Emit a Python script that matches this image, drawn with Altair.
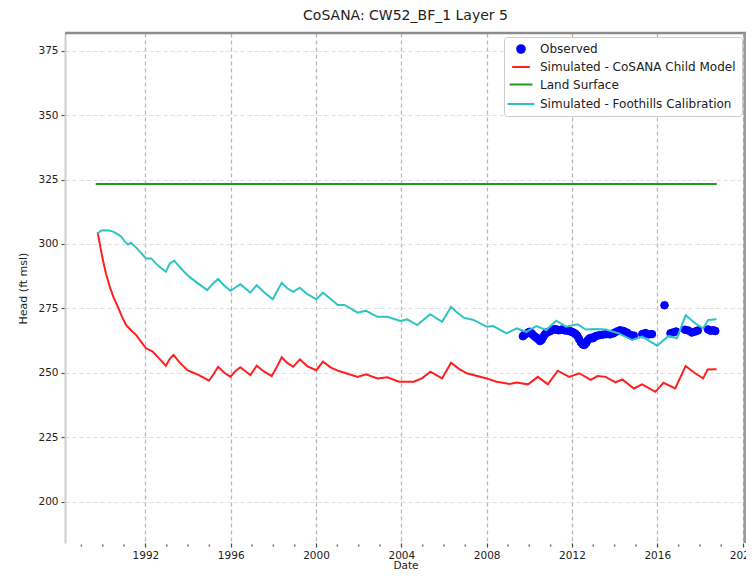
import altair as alt
import pandas as pd

TITLE = "CoSANA: CW52_BF_1 Layer 5"
series_names = ["Observed", "Simulated - CoSANA Child Model", "Land Surface",
                "Simulated - Foothills Calibration"]
series_colors = ["#0000ff", "#ff1f1f", "#209a20", "#2fc4c4"]

obs_year = [2009.70, 2009.78, 2009.86, 2009.94, 2010.02, 2010.10, 2010.18, 2010.26, 2010.34, 2010.42,
            2010.50, 2010.58, 2010.66, 2010.74, 2010.82, 2010.90, 2010.98, 2011.06, 2011.14, 2011.22,
            2011.30, 2011.38, 2011.46, 2011.54, 2011.62, 2011.70, 2011.78, 2011.86, 2011.94, 2012.02,
            2012.10, 2012.18, 2012.26, 2012.34, 2012.42, 2012.50, 2012.58, 2012.66, 2012.74, 2012.82,
            2012.90, 2012.98, 2013.06, 2013.14, 2013.30, 2013.46, 2013.62, 2013.78, 2013.94, 2014.10,
            2014.26, 2014.42, 2014.58, 2014.74, 2014.90, 2015.30, 2015.45, 2015.60, 2015.75, 2016.34,
            2016.62, 2016.72, 2016.88, 2017.30, 2017.45, 2017.62, 2017.78, 2017.90, 2018.38, 2018.50,
            2018.62, 2018.72]
obs_head = [264.2, 264.8, 265.2, 265.6, 265.9, 265.3, 264.6, 264.0, 263.6, 263.0,
            262.3, 262.8, 264.0, 265.0, 265.6, 265.9, 266.2, 266.5, 266.8, 266.9,
            266.7, 266.5, 266.6, 266.8, 266.6, 266.4, 266.5, 266.3, 266.0, 265.8,
            265.4, 265.0, 264.2, 263.0, 261.8, 261.0, 260.8, 261.5, 262.6, 263.3,
            263.6, 263.4, 263.9, 264.3, 264.6, 264.8, 265.0, 264.9, 265.3, 266.0,
            266.5, 266.2, 265.6, 264.7, 264.4, 265.0, 265.4, 264.9, 265.0, 276.2,
            265.3, 265.6, 266.0, 266.7, 266.4, 265.6, 266.0, 266.4, 266.8, 266.3,
            266.5, 266.2]

child_year = [1989.76, 1989.85, 1989.93, 1990.01, 1990.15, 1990.33, 1990.52, 1990.71, 1990.90, 1991.10,
              1991.35, 1991.57, 1991.80, 1992.03, 1992.34, 1992.65, 1992.96, 1993.15, 1993.32, 1993.60,
              1993.97, 1994.25, 1994.51, 1994.98, 1995.20, 1995.41, 1995.70, 1995.99, 1996.20, 1996.45,
              1996.92, 1997.22, 1997.55, 1997.92, 1998.15, 1998.39, 1998.65, 1998.93, 1999.24, 1999.60,
              2000.01, 2000.33, 2000.70, 2001.02, 2001.41, 2001.95, 2002.34, 2002.88, 2003.35, 2003.89,
              2004.59, 2005.00, 2005.36, 2005.91, 2006.33, 2006.70, 2007.07, 2008.00, 2008.47, 2009.08,
              2009.40, 2009.94, 2010.40, 2010.87, 2011.33, 2011.87, 2012.34, 2012.88, 2013.20, 2013.58,
              2014.05, 2014.36, 2014.90, 2015.29, 2015.91, 2016.29, 2016.84, 2017.33, 2017.77, 2018.15,
              2018.36, 2018.78]
child_head = [304.5, 300.5, 297.0, 293.7, 288.5, 283.4, 279.0, 275.6, 271.8, 268.5,
              266.3, 264.6, 262.0, 259.5, 258.2, 255.5, 252.7, 255.5, 256.9, 254.0,
              251.0, 250.0, 249.1, 246.9, 249.5, 252.3, 250.0, 248.4, 250.5, 252.1,
              249.1, 252.7, 250.5, 248.7, 252.0, 256.0, 253.8, 252.3, 255.2, 252.5,
              251.0, 254.3, 252.0, 250.8, 249.8, 248.4, 249.4, 247.8, 248.2, 246.5,
              246.5, 248.0, 250.4, 247.8, 253.9, 251.5, 249.8, 247.8, 246.5, 245.6,
              246.2, 245.5, 248.4, 245.5, 250.8, 248.4, 249.8, 247.2, 248.7, 248.4,
              246.3, 247.4, 243.9, 245.5, 242.6, 246.1, 243.9, 252.6, 249.8, 247.8,
              251.3, 251.4]

foot_year = [1989.76, 1989.90, 1990.00, 1990.30, 1990.48, 1990.70, 1990.87, 1991.05, 1991.18, 1991.33,
             1991.60, 1992.03, 1992.27, 1992.60, 1992.96, 1993.15, 1993.35, 1993.70, 1994.05, 1994.50,
             1994.90, 1995.15, 1995.41, 1995.70, 1995.99, 1996.20, 1996.45, 1996.92, 1997.22, 1997.60,
             1997.97, 1998.20, 1998.39, 1998.65, 1998.93, 1999.24, 1999.60, 2000.01, 2000.33, 2000.70,
             2001.02, 2001.34, 2001.95, 2002.33, 2002.88, 2003.35, 2003.95, 2004.28, 2004.74, 2005.35,
             2005.91, 2006.33, 2006.60, 2006.92, 2007.38, 2008.00, 2008.31, 2008.93, 2009.40, 2009.86,
             2010.33, 2010.79, 2011.26, 2011.72, 2012.27, 2012.65, 2013.10, 2013.58, 2014.19, 2014.82,
             2015.29, 2015.99, 2016.53, 2016.92, 2017.33, 2017.77, 2018.15, 2018.39, 2018.78]
foot_head = [304.0, 305.1, 305.3, 305.2, 304.8, 303.8, 302.8, 300.8, 299.8, 300.5,
             298.3, 294.4, 294.4, 291.5, 289.2, 292.5, 293.5, 290.2, 287.3, 284.5,
             282.1, 284.5, 286.4, 283.8, 281.8, 283.0, 284.4, 281.1, 284.0, 281.0,
             278.5, 282.0, 284.9, 282.8, 281.4, 283.0, 280.5, 278.5, 281.1, 278.5,
             276.3, 276.3, 273.3, 274.1, 271.7, 271.7, 270.1, 270.7, 268.5, 272.7,
             269.8, 275.6, 273.5, 271.4, 270.5, 267.9, 268.1, 265.3, 267.2, 265.9,
             268.1, 266.6, 270.2, 267.9, 268.8, 266.8, 267.0, 266.8, 265.3, 262.7,
             264.0, 260.5, 264.3, 263.4, 272.3, 269.2, 267.2, 270.5, 270.8]

land_year = [1989.67, 2018.79]
land_head = [323.3, 323.3]

x_ticks = [1992, 1996, 2000, 2004, 2008, 2012, 2016, 2020]
y_ticks = [200, 225, 250, 275, 300, 325, 350, 375]
minor_years = [1989, 1990, 1991, 1993, 1994, 1995, 1997, 1998, 1999, 2001, 2002, 2003,
               2005, 2006, 2007, 2009, 2010, 2011, 2013, 2014, 2015, 2017, 2018, 2019]

W, H = 681, 510
FONT = "DejaVu Sans"
LINE_SYMBOL = "M-1.35,0L1.35,0"

lines_df = pd.concat([
    pd.DataFrame({"year": child_year, "head": child_head, "series": series_names[1]}),
    pd.DataFrame({"year": land_year, "head": land_head, "series": series_names[2]}),
    pd.DataFrame({"year": foot_year, "head": foot_head, "series": series_names[3]}),
], ignore_index=True)
obs_df = pd.DataFrame({"year": obs_year, "head": obs_head, "series": series_names[0]})
minor_df = pd.DataFrame({"year": minor_years})

x_scale = alt.Scale(domain=[1988.23, 2020.16], nice=False, zero=False)
y_scale = alt.Scale(domain=[183.9, 381.9], nice=False, zero=False)
color_scale = alt.Scale(domain=series_names, range=series_colors)

x_enc = alt.X("year:Q", scale=x_scale,
              axis=alt.Axis(values=x_ticks, format="d", title="Date", grid=True,
                            gridColor="#b8b8b8", gridDash=[4, 3], gridWidth=1.3,
                            domain=False, tickSize=4, tickColor="#444", tickWidth=1.2,
                            labelFontSize=10.5, labelPadding=3, labelColor="#222",
                            labelFlush=False, labelOverlap=False,
                            titleFontSize=10.5, titlePadding=0, titleColor="#222",
                            titleFontWeight="normal"))
y_enc = alt.Y("head:Q", scale=y_scale,
              axis=alt.Axis(values=y_ticks, title="Head (ft msl)", grid=True,
                            gridColor="#dddddd", gridDash=[4, 3], gridWidth=1.2,
                            domainColor="#cfcfcf", domainWidth=2,
                            tickSize=4, tickColor="#555", tickWidth=1.2,
                            labelFontSize=10.5, labelPadding=3, labelColor="#222",
                            titleFontSize=11, titlePadding=9, titleColor="#222",
                            titleFontWeight="normal"))

legend = alt.Legend(title=None)

points = alt.Chart(obs_df).mark_point(filled=True, opacity=1, strokeWidth=1).encode(
    x=x_enc, y=y_enc,
    fill=alt.Fill("series:N", scale=color_scale, legend=legend),
    stroke=alt.Stroke("series:N", scale=color_scale, legend=legend),
    shape=alt.Shape("series:N", scale=alt.Scale(domain=series_names,
                                                range=["circle", LINE_SYMBOL, LINE_SYMBOL, LINE_SYMBOL]),
                    legend=legend),
    size=alt.Size("series:N", scale=alt.Scale(domain=series_names, range=[58, 400, 400, 400]),
                  legend=legend),
)

lines = alt.Chart(lines_df).mark_line(strokeWidth=2).encode(
    x=x_enc, y=y_enc,
    stroke=alt.Stroke("series:N", scale=color_scale, legend=None),
)

minor = alt.Chart(minor_df).mark_rule(color="#666", strokeWidth=1.5).encode(
    x=x_enc, y=alt.value(H + 1.5), y2=alt.value(H + 3.5)
)

frame_top = alt.Chart(alt.Data(values=[{"k": 1}])).mark_rule(color="#8c8c8c", strokeWidth=2.5).encode(
    x=alt.value(0), x2=alt.value(W), y=alt.value(0)
)
frame_right = alt.Chart(alt.Data(values=[{"k": 1}])).mark_rule(color="#9a9a9a", strokeWidth=3).encode(
    x=alt.value(W - 1), y=alt.value(0), y2=alt.value(H)
)

chart = alt.layer(points, lines, minor, frame_top, frame_right).properties(
    width=W, height=H,
    title=alt.TitleParams(TITLE, fontSize=14, font=FONT, fontWeight="normal",
                          color="#222", offset=9, anchor="middle"),
    autosize=alt.AutoSizeParams(type="none"),
    padding={"left": 57, "top": 25, "right": 0, "bottom": 28},
).configure(font=FONT).configure_view(stroke=None).configure_legend(
    orient="top-right", offset=4, fillColor="white", strokeColor="#cccccc",
    cornerRadius=3, padding=6, labelFontSize=12, labelColor="#222", labelLimit=400,
    symbolStrokeWidth=2, rowPadding=2, labelFont=FONT, labelOffset=8,
)

chart.save("out.html", embed_options={"renderer": "svg", "actions": False})
